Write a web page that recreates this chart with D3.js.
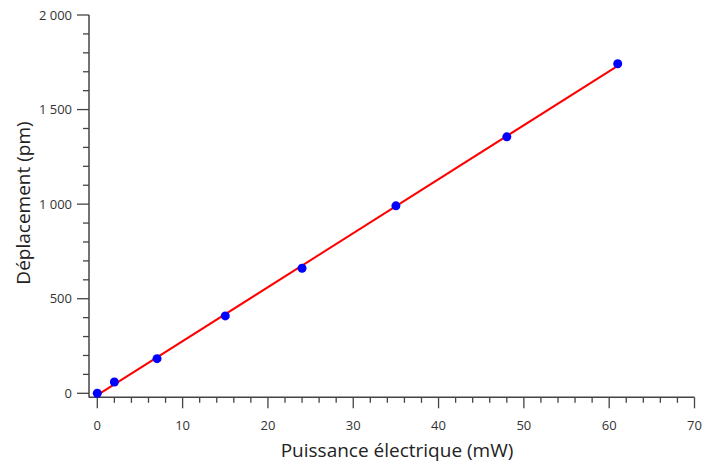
<!DOCTYPE html>
<html>
<head>
<meta charset="utf-8">
<script src="https://cdn.jsdelivr.net/npm/d3@7"></script>
<style>
  html, body { margin: 0; padding: 0; background: #fff; }
  svg { display: block; font-family: "Open Sans", "Noto Sans", sans-serif; }
</style>
</head>
<body>
<svg id="chart" width="702" height="463"></svg>
<script>
const powerMW = [0, 2, 7, 15, 24, 35, 48, 61];
const displacementPm = [0, 60, 183, 409, 661, 991, 1356, 1742];
const xTicks = [0, 10, 20, 30, 40, 50, 60, 70];
const yTicks = [0, 500, 1000, 1500, 2000];
const xLabel = "Puissance électrique (mW)";
const yLabel = "Déplacement (pm)";

const svg = d3.select("#chart");
const x = d3.scaleLinear().domain([0, 70]).range([97.3, 694.5]);
const y = d3.scaleLinear().domain([0, 2000]).range([393.3, 15]);
const axisColor = "#444";
const fmt = v => d3.format(",")(v).replace(/,/g, " ");

// Y axis
const yAxisX = 89;
const gy = svg.append("g").attr("transform", `translate(${yAxisX},0)`);
gy.append("line").attr("x1", 0).attr("x2", 0).attr("y1", y(2000)).attr("y2", 397.5)
  .attr("stroke", axisColor).attr("stroke-width", 1.5);
const yMinor = d3.range(0, 2001, 100);
gy.selectAll("line.minor").data(yMinor).join("line").attr("class", "minor")
  .attr("x1", d => yTicks.includes(d) ? -12 : -6).attr("x2", 0)
  .attr("y1", d => y(d)).attr("y2", d => y(d))
  .attr("stroke", axisColor).attr("stroke-width", 1.3);
gy.selectAll("text").data(yTicks).join("text")
  .attr("x", -17).attr("y", d => y(d)).attr("dy", "0.35em")
  .attr("text-anchor", "end").attr("font-size", 13).attr("fill", "#333")
  .text(fmt);

// X axis
const xAxisY = 397.3;
const gx = svg.append("g").attr("transform", `translate(0,${xAxisY})`);
gx.append("line").attr("x1", yAxisX).attr("x2", x(70)).attr("y1", 0).attr("y2", 0)
  .attr("stroke", axisColor).attr("stroke-width", 1.5);
const xMinor = d3.range(0, 71, 2);
gx.selectAll("line.minor").data(xMinor).join("line").attr("class", "minor")
  .attr("x1", d => x(d)).attr("x2", d => x(d))
  .attr("y1", 0).attr("y2", d => xTicks.includes(d) ? 11 : 5.5)
  .attr("stroke", axisColor).attr("stroke-width", 1.3);
gx.selectAll("text").data(xTicks).join("text")
  .attr("x", d => x(d)).attr("y", 28).attr("dy", "0.35em")
  .attr("text-anchor", "middle").attr("font-size", 13).attr("fill", "#333")
  .text(fmt);

// Titles
svg.append("text").attr("x", 397).attr("y", 450).attr("dy", "0.35em")
  .attr("text-anchor", "middle").attr("font-size", 19).attr("fill", "#222")
  .text(xLabel);
svg.append("text").attr("transform", "translate(23,203) rotate(-90)").attr("dy", "0.35em")
  .attr("text-anchor", "middle").attr("font-size", 19).attr("fill", "#222")
  .text(yLabel);

// Least-squares fit line
const mx = d3.mean(powerMW), my = d3.mean(displacementPm);
const sxy = d3.sum(powerMW, (v, i) => (v - mx) * (displacementPm[i] - my));
const sxx = d3.sum(powerMW, v => (v - mx) ** 2);
const slope = sxy / sxx, intercept = my - slope * mx;
const fitX = [d3.min(powerMW), d3.max(powerMW)];
svg.append("path")
  .datum(fitX)
  .attr("d", d3.line().x(d => x(d)).y(d => y(slope * d + intercept)))
  .attr("stroke", "#ff0000").attr("stroke-width", 2).attr("fill", "none");

// Points
svg.selectAll("circle").data(powerMW).join("circle")
  .attr("cx", d => x(d)).attr("cy", (d, i) => y(displacementPm[i]))
  .attr("r", 4.5).attr("fill", "#0000ff");
</script>
</body>
</html>
